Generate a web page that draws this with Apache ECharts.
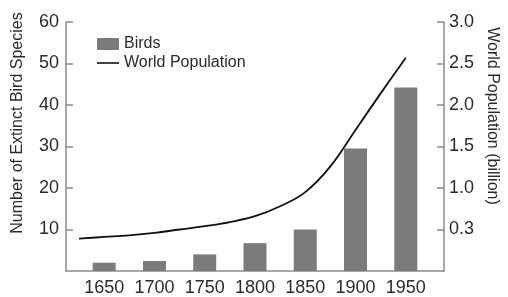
<!DOCTYPE html>
<html>
<head>
<meta charset="utf-8">
<script src="https://cdn.jsdelivr.net/npm/echarts@6/dist/echarts.min.js"></script>
<style>
  html, body { margin: 0; padding: 0; background: #fff; }
  #chart { width: 508px; height: 297px; }
</style>
</head>
<body>
<div id="chart"></div>
<script>
var years = [1650, 1700, 1750, 1800, 1850, 1900, 1950]
var birds = [2, 2.4, 4, 6.7, 10, 29.5, 44.2]
var popYears = [1625, 1650, 1675, 1700, 1725, 1750, 1775, 1800, 1825, 1850, 1875, 1900, 1925, 1950]
var population = [0.39, 0.41, 0.43, 0.46, 0.5, 0.54, 0.59, 0.66, 0.78, 0.95, 1.26, 1.7, 2.14, 2.57]
var leftTicks = [10, 20, 30, 40, 50, 60]
var rightTickLabels = ['0.3', '1.0', '1.5', '2.0', '2.5', '3.0']

var font = 'Liberation Sans, Arial, sans-serif'
var textColor = '#2b2b2b'
var axisColor = '#8a8a8a'

var chart = echarts.init(document.getElementById('chart'))

chart.setOption({
  animation: false,
  grid: { left: 66, right: 64, top: 22, bottom: 26, containLabel: false },
  legend: {
    orient: 'vertical',
    left: 92,
    top: 31,
    itemWidth: 22,
    itemHeight: 12,
    itemGap: 3,
    textStyle: { fontFamily: font, fontSize: 16, color: textColor, lineHeight: 14 },
    data: [
      { name: 'Birds', icon: 'rect' },
      { name: 'World Population', icon: 'path://M0,0 L22,0 L22,1.6 L0,1.6 Z' }
    ]
  },
  xAxis: {
    type: 'value',
    min: 1612,
    max: 1988,
    splitLine: { show: false },
    axisLine: { lineStyle: { color: axisColor, width: 1.5 } },
    axisTick: { show: false },
    axisLabel: {
      customValues: years,
      formatter: function (v) { return String(v) },
      fontFamily: font, fontSize: 18, color: textColor, margin: 8
    }
  },
  yAxis: [{
    type: 'value',
    min: 0,
    max: 60,
    interval: 10,
    position: 'left',
    splitLine: { show: false },
    axisLine: { show: true, lineStyle: { color: axisColor, width: 1.5 } },
    axisTick: { show: true, inside: true, length: 7, lineStyle: { color: axisColor, width: 1.5 } },
    axisLabel: {
      showMinLabel: false,
      fontFamily: font, fontSize: 18, color: textColor, margin: 7,
      formatter: function (v) { return leftTicks.indexOf(v) >= 0 ? String(v) : '' }
    }
  }, {
    type: 'value',
    min: 0,
    max: 3,
    interval: 0.5,
    position: 'right',
    splitLine: { show: false },
    axisLine: { show: true, lineStyle: { color: axisColor, width: 1.5 } },
    axisTick: { show: true, inside: true, length: 7, lineStyle: { color: axisColor, width: 1.5 } },
    axisLabel: {
      showMinLabel: false,
      fontFamily: font, fontSize: 18, color: textColor, margin: 5,
      formatter: function (v) {
        var i = Math.round(v / 0.5) - 1
        return i >= 0 ? rightTickLabels[i] : ''
      }
    }
  }],
  graphic: [{
    type: 'text',
    x: 18, y: 123,
    rotation: Math.PI / 2,
    style: {
      text: 'Number of Extinct Bird Species',
      fontFamily: font, fontSize: 16, fill: textColor,
      align: 'center', verticalAlign: 'middle'
    }
  }, {
    type: 'text',
    x: 492, y: 116,
    rotation: -Math.PI / 2,
    style: {
      text: 'World Population (billion)',
      fontFamily: font, fontSize: 16, fill: textColor,
      align: 'center', verticalAlign: 'middle'
    }
  }],
  series: [{
    name: 'Birds',
    type: 'bar',
    barWidth: 23,
    yAxisIndex: 0,
    itemStyle: { color: '#7b7b7b' },
    data: years.map(function (y, i) { return [y, birds[i]] })
  }, {
    name: 'World Population',
    type: 'line',
    yAxisIndex: 1,
    smooth: 0.4,
    symbol: 'none',
    lineStyle: { color: '#111', width: 1.8 },
    itemStyle: { color: '#111' },
    data: popYears.map(function (y, i) { return [y, population[i]] })
  }]
})
</script>
</body>
</html>
